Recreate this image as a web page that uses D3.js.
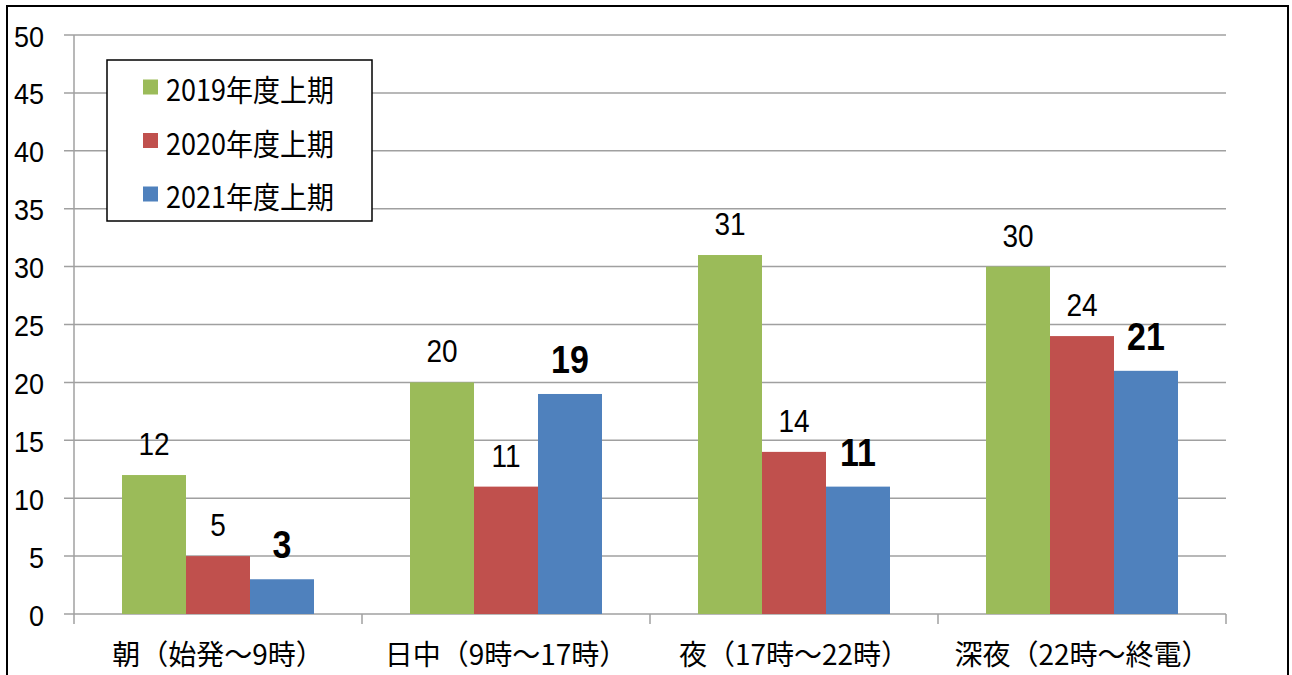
<!DOCTYPE html>
<html><head><meta charset="utf-8">
<script src="https://cdn.jsdelivr.net/npm/d3@7"></script>
<style>body{margin:0;background:#fff}</style>
</head><body>
<script>
const categories = ["朝（始発～9時）", "日中（9時～17時）", "夜（17時～22時）", "深夜（22時～終電）"];
const seriesNames = ["2019年度上期", "2020年度上期", "2021年度上期"];
const values2019 = [12, 20, 31, 30];
const values2020 = [5, 11, 14, 24];
const values2021 = [3, 19, 11, 21];
const yTicks = [0, 5, 10, 15, 20, 25, 30, 35, 40, 45, 50];
const colors = ["#9BBB59", "#C0504D", "#4F81BD"];

const series = [values2019, values2020, values2021];
const W = 1292, H = 675;
const svg = d3.select("body").append("svg").attr("width", W).attr("height", H);
const numFont = "'Liberation Sans', Arial, sans-serif";
const cjkFont = "'Noto Sans CJK JP', sans-serif";

svg.append("rect").attr("x", 7).attr("y", 6).attr("width", 1281).attr("height", 700)
  .attr("fill", "#fff").attr("stroke", "#000").attr("stroke-width", 2);

const x0 = d3.scaleBand().domain(categories).range([74, 1226]).paddingInner(0).paddingOuter(0);
const groupPad = 48;
const x1 = d3.scaleBand().domain(d3.range(3)).range([groupPad, x0.bandwidth() - groupPad]);
const y = d3.scaleLinear().domain([0, 50]).range([614, 35]);

// gridlines
svg.append("g").selectAll("line").data(yTicks).join("line")
  .attr("x1", 64).attr("x2", 1226)
  .attr("y1", d => y(d)).attr("y2", d => y(d))
  .attr("stroke", "#a0a0a0").attr("stroke-width", 1.5);

// y axis line
svg.append("line").attr("x1", 74).attr("x2", 74).attr("y1", y(50)).attr("y2", y(0))
  .attr("stroke", "#a0a0a0").attr("stroke-width", 1.5);

// x category boundary ticks
const bounds = categories.map(c => x0(c)).concat([x0(categories[3]) + x0.bandwidth()]);
svg.append("g").selectAll("line").data(bounds).join("line")
  .attr("x1", d => d).attr("x2", d => d).attr("y1", y(0)).attr("y2", y(0) + 10)
  .attr("stroke", "#a0a0a0").attr("stroke-width", 1.5);

// y tick labels
svg.append("g").selectAll("text").data(yTicks).join("text")
  .attr("transform", d => `translate(44,${y(d) + 1}) scale(1,1.12)`)
  .attr("text-anchor", "end").attr("dominant-baseline", "central")
  .attr("font-family", numFont).attr("font-size", 27)
  .attr("fill", "#000").text(d => d);

// bars
const groups = svg.append("g").selectAll("g").data(categories).join("g")
  .attr("transform", c => `translate(${x0(c)},0)`);

groups.selectAll("rect").data((c, i) => series.map((s, k) => ({k, v: s[i]}))).join("rect")
  .attr("x", d => x1(d.k)).attr("width", x1.bandwidth())
  .attr("y", d => y(d.v)).attr("height", d => y(0) - y(d.v))
  .attr("fill", d => colors[d.k]);

groups.selectAll("text").data((c, i) => series.map((s, k) => ({k, v: s[i]}))).join("text")
  .attr("transform", d => `translate(${x1(d.k) + x1.bandwidth() / 2},${y(d.v) - (d.k === 2 ? 21 : 20)}) scale(1,1.12)`)
  .attr("text-anchor", "middle")
  .attr("font-family", numFont)
  .attr("font-size", d => d.k === 2 ? 34 : 28)
  .attr("font-weight", d => d.k === 2 ? "bold" : "normal")
  .attr("fill", "#000").text(d => d.v);

// category labels
svg.append("g").selectAll("text").data(categories).join("text")
  .attr("x", c => x0(c) + x0.bandwidth() / 2).attr("y", 653)
  .attr("text-anchor", "middle").attr("dominant-baseline", "central")
  .attr("font-family", cjkFont).attr("font-size", 28)
  .attr("fill", "#000").text(c => c);

// legend
const lg = svg.append("g");
lg.append("rect").attr("x", 107).attr("y", 60).attr("width", 265).attr("height", 161)
  .attr("fill", "#fff").attr("stroke", "#000").attr("stroke-width", 1.5);
const ly = d3.scalePoint().domain(seriesNames).range([87, 194]);
lg.selectAll("rect.sw").data(seriesNames).join("rect").attr("class", "sw")
  .attr("x", 143).attr("y", d => ly(d) - 7.5).attr("width", 15).attr("height", 15)
  .attr("fill", (d, i) => colors[i]);
lg.selectAll("text").data(seriesNames).join("text")
  .attr("transform", d => `translate(166,${ly(d) + 1}) scale(1,1.1)`)
  .attr("dominant-baseline", "central")
  .attr("font-family", cjkFont).attr("font-size", 27)
  .attr("fill", "#000").text(d => d);
</script>
</body></html>
